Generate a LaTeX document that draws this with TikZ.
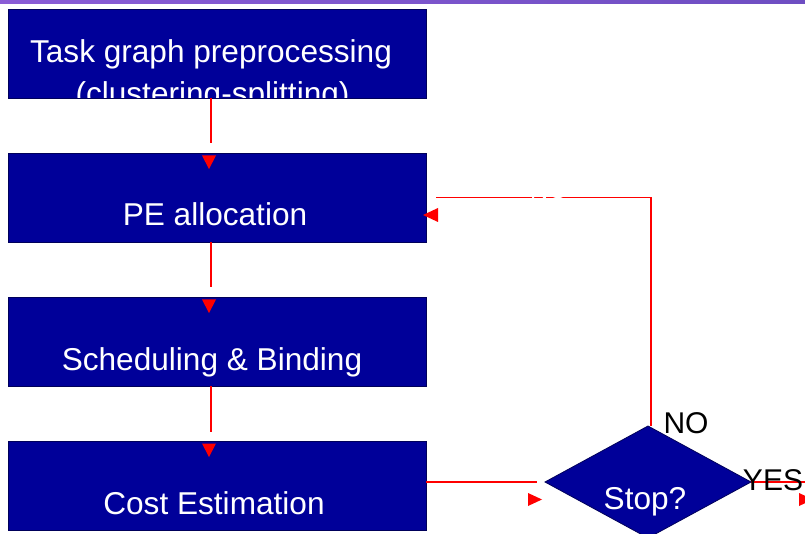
\documentclass[tikz,border=0pt]{standalone}
\usepackage{fontspec}
\setmainfont{Liberation Sans}
\usetikzlibrary{shapes.geometric,calc}
\definecolor{boxblue}{RGB}{0,0,153}
\definecolor{boxedge}{RGB}{0,0,90}
\definecolor{flowred}{RGB}{255,0,0}
\definecolor{barleft}{RGB}{138,92,214}
\definecolor{barmid}{RGB}{200,104,246}
\definecolor{barright}{RGB}{110,78,194}
\begin{document}
\begin{tikzpicture}[x=1pt,y=-1pt,
  stepbox/.style={rectangle, fill=boxblue, draw=boxedge, line width=0.8pt,
    minimum width=418pt, minimum height=89pt, inner sep=0pt, outer sep=0pt},
  decision/.style={diamond, aspect=1.84, fill=boxblue, draw=boxedge, line width=0.8pt,
    minimum width=206pt, minimum height=112pt, inner sep=0pt, outer sep=0pt},
  lbl/.style={font=\fontsize{31.6}{37}\selectfont, text=white, anchor=base, inner sep=0pt},
  tag/.style={font=\fontsize{30}{36}\selectfont, text=black, anchor=base, inner sep=0pt},
  flow/.style={draw=flowred, line width=1.6pt},
  head/.style={fill=flowred}]
\useasboundingbox (0,0) rectangle (805,534);

% title band along the top edge
\shade[left color=barleft, middle color=barmid, right color=barright]
  (0,0) rectangle (805,3.5);

% process steps
\node[stepbox] (b1) at (217,53.5) {};
\node[stepbox] (b2) at (217,197.5) {};
\node[stepbox] (b3) at (217,341.5) {};
\node[stepbox] (b4) at (217,485.5) {};

\begin{scope}
  \clip (b1.south west) rectangle (b1.north east);
  \node[lbl] (t1) at (211,63) {Task graph preprocessing};
  \node[lbl] (t1b) at (212.5,105) {(clustering-splitting)};
\end{scope}
\node[lbl] (t2) at (215,226) {PE allocation};
\node[lbl] (t3) at (212,370) {Scheduling \& Binding};
\node[lbl] (t4) at (214,514) {Cost Estimation};

% decision
\node[decision] (d) at (648,482) {};
\node[lbl] (td) at (645,509) {Stop?};

% downward connectors between the steps
\foreach \a/\b in {b1/b2,b2/b3,b3/b4}{
  \draw[flow] ($(\a.south)+(-6,0)$) -- ($(\b.north)+(-6,-9.5)$);
  \fill[head] ($(\b.north)+(-15,2.5)$) -- ++(14,0) -- ++(-7,13.5) -- cycle;
}

% cost estimation to decision
\draw[flow] (b4.east |- d.west) -- ($(d.west)+(-8,0)$);
\fill[head] ($(d.west)+(-17,11)$) -- ++(0,13) -- ++(14,-6.5) -- cycle;

% NO branch back to PE allocation
\draw[flow] ($(d.north)+(3,0)$) |- ($(b2.east)+(10,0)$);
\fill[head] ($(b2.east)+(12,10.5)$) -- ++(0,14) -- ++(-15,-7) -- cycle;

% YES branch leaving to the right
\coordinate (yesend) at (805,482);
\draw[flow] (d.east) -- (yesend);
\fill[head] ($(yesend)+(-6,11)$) -- ++(0,13) -- ++(14,-6.5) -- cycle;

% branch labels
\node[font=\fontsize{25}{30}\selectfont, text=white, anchor=base west, inner sep=0pt] (nohidden) at (530,199) {NO};
\node[tag] (no) at (686,433) {NO};
\node[tag] (yes) at (773,490) {YES};
\end{tikzpicture}
\end{document}
